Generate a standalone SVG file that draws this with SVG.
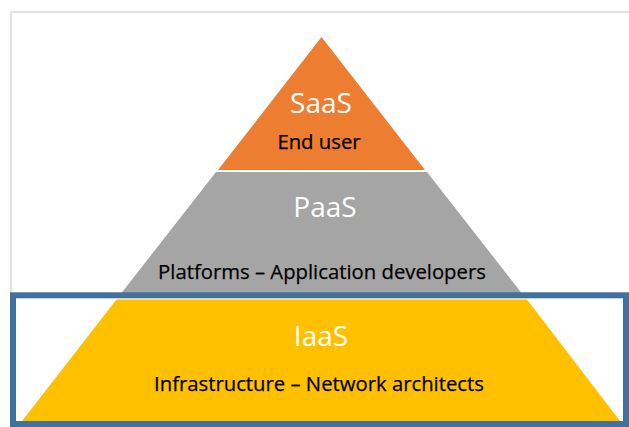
<svg xmlns="http://www.w3.org/2000/svg" width="629" height="427" viewBox="0 0 629 427">
<style>
.t{font-family:"Open Sans","Liberation Sans",sans-serif;text-anchor:middle}
.big{fill:#ffffff;font-size:28px}
.small{fill:#000000;font-size:20.3px;stroke:#000000;stroke-width:0.25}
</style>
<rect x="0" y="0" width="629" height="427" fill="#ffffff"/>
<rect x="11" y="12" width="640" height="420" fill="none" stroke="#e3e3e3" stroke-width="2"/>
<g id="iaas">
<polygon points="116.5,299.5 527,299.5 620,421 22,421" fill="#FFC000"/>
<text class="t big" x="321" y="346">IaaS</text>
<text class="t small" x="319" y="390.5">Infrastructure – Network architects</text>
</g>
<g id="paas">
<polygon points="216,172 427,172 521.5,293 121.5,293" fill="#A5A5A5"/>
<text class="t big" x="325" y="216.5">PaaS</text>
<text class="t small" x="322" y="279">Platforms – Application developers</text>
</g>
<g id="saas">
<polygon points="321.5,37 425,170 218,170" fill="#ED7D31"/>
<text class="t big" x="321" y="113">SaaS</text>
<text class="t small" x="319" y="149">End user</text>
</g>
<g id="frame">
<rect x="13" y="295.3" width="613" height="128.7" fill="none" stroke="#41719C" stroke-width="6"/>
</g>
</svg>
